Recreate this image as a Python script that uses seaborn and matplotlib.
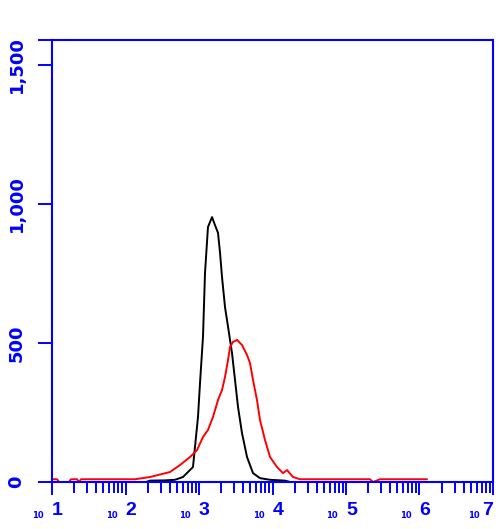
import matplotlib
matplotlib.use("Agg")
import matplotlib.pyplot as plt
from matplotlib.transforms import offset_copy
import pandas as pd
import seaborn as sns

# muestra control (negro)
black_x = [120, 190, 215, 345, 471, 605, 828, 969, 1032, 1133, 1207, 1324, 1503,
           1651, 1814, 1933, 2057, 2259, 2484, 2812, 3090, 3394, 3845, 4500,
           5430, 6760, 9250, 14800, 17500]
black_counts = [0, 0, 5, 6, 8, 18, 54, 234, 356, 522, 752, 917, 953,
                924, 896, 824, 737, 629, 558, 464, 367, 270, 176, 90,
                32, 14, 8, 5, 0]

# muestra marcada (rojo)
red_x = [10.3, 11.7, 12.5, 17.0, 18.1, 21.9, 23.3, 24.8, 135, 215, 403, 551,
         755, 940, 1133, 1324, 1549, 1814, 2057, 2259, 2484, 2644, 2904, 3290,
         3845, 4500, 4943, 5430, 6150, 6760, 7910, 9250, 11510, 13890, 15750,
         19000, 23670, 212000, 232900, 290000, 509000, 578000, 925000,
         1016000, 1265000]
red_counts = [10, 10, 0, 0, 10, 10, 0, 10, 10, 18, 36, 61,
              90, 115, 162, 187, 234, 295, 331, 378, 439, 486, 504, 511,
              493, 457, 428, 367, 295, 223, 151, 90, 54, 32, 43,
              18, 10, 10, 0, 10, 10, 10, 10,
              10, 10]

y_ticks = [0, 500, 1000, 1500]
y_labels = ["0", "500", "1,000", "1,500"]
x_decades = [1, 2, 3, 4, 5, 6, 7]

y_top = 1590
axis_blue = "#0000ff"
narrow = ["Liberation Sans Narrow", "Liberation Sans", "DejaVu Sans"]

df_black = pd.DataFrame({"FL1": black_x, "count": black_counts})
df_red = pd.DataFrame({"FL1": red_x, "count": red_counts})

sns.set_style("white")

fig = plt.figure(figsize=(5.03, 5.29), dpi=100)
ax = fig.add_axes([0.1034, 0.0888, 0.8767, 0.8356])
ax.set_xscale("log")

sns.lineplot(data=df_black, x="FL1", y="count", color="black", linewidth=1.4,
             estimator=None, sort=False, ax=ax)
sns.lineplot(data=df_red, x="FL1", y="count", color="red", linewidth=1.4,
             estimator=None, sort=False, ax=ax)

ax.set_xlim(10, 1e7)
ax.set_ylim(0, y_top)

# ejes azules
for side in ["left", "right", "top", "bottom"]:
    ax.spines[side].set_color(axis_blue)
    ax.spines[side].set_linewidth(1.5)

# eje y: ticks hacia fuera, etiquetas giradas
ax.set_yticks(y_ticks + [y_top])
ax.set_yticklabels(y_labels + [""], rotation=90, va="center",
                   fontsize=13, fontweight="bold", color=axis_blue)
ax.tick_params(axis="y", direction="out", length=10, width=1.4,
               color=axis_blue, pad=9, left=True)

# eje x logaritmico: exponente grande, "10" pequeño a la izquierda
ax.set_xticks([10.0 ** d for d in x_decades])
ax.set_xticklabels([str(d) for d in x_decades], ha="left",
                   fontsize=14, fontweight="bold", family=narrow,
                   color=axis_blue)
# la ultima etiqueta queda a la izquierda del tick, como en el original
ax.get_xticklabels()[-1].set_ha("right")
minors = [m * 10.0 ** d for d in x_decades[:-1] for m in range(2, 10)]
ax.set_xticks(minors, minor=True)
ax.set_xticklabels([], minor=True)
ax.tick_params(axis="x", which="major", direction="out", length=9.5,
               width=1.4, color=axis_blue, pad=5, bottom=True)
ax.tick_params(axis="x", which="minor", direction="out", length=8,
               width=1.4, color=axis_blue, bottom=True)

for d in x_decades:
    dx = -13 if d == x_decades[-1] else -8
    base_tr = offset_copy(ax.get_xaxis_transform(), fig=fig, x=dx, y=-36,
                          units="dots")
    ax.text(10.0 ** d, 0, "10", transform=base_tr, ha="right", va="baseline",
            fontsize=6, fontweight="bold", color=axis_blue, clip_on=False)

ax.set_xlabel("")
ax.set_ylabel("")
ax.grid(False)

fig.savefig("out.png", dpi=100)
